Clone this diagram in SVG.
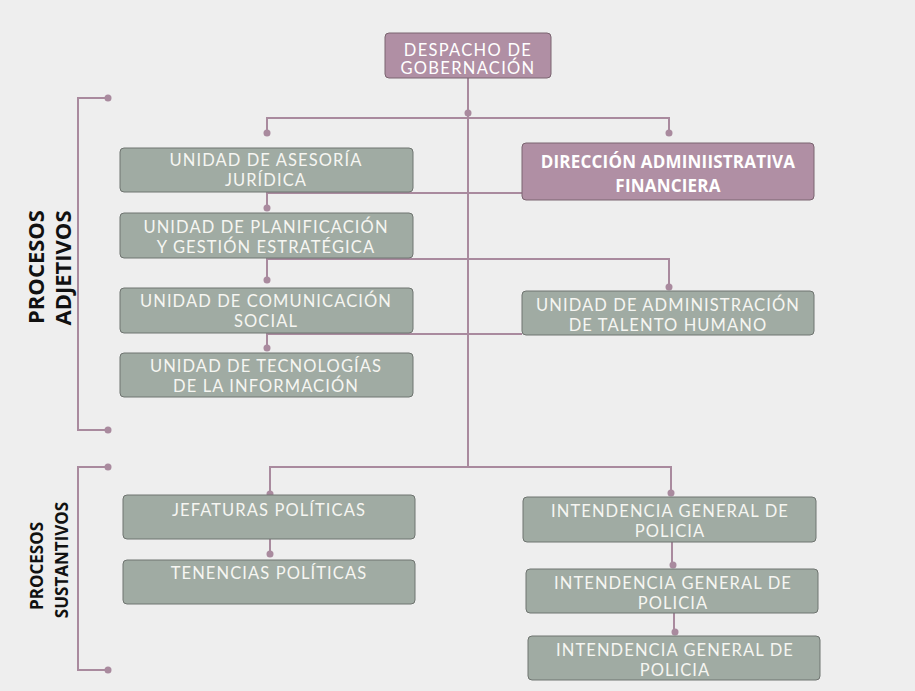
<svg xmlns="http://www.w3.org/2000/svg" width="915" height="691" viewBox="0 0 915 691">
<style>
.bg{fill:#eeeeee}
.ln{stroke:#a98a9e;stroke-width:2;fill:none}
.dot{fill:#a98a9e}
.g{fill:#a0aba3;stroke:#6f7470;stroke-width:1}
.p{fill:#b08fa4;stroke:#7a6470;stroke-width:1}
.t{font-family:Lato,"Open Sans",sans-serif;font-size:16.5px;fill:#f6f6f2;text-anchor:middle;letter-spacing:1.1px}
.tb{font-family:"Open Sans",sans-serif;font-weight:bold;font-size:17px;fill:#ffffff;text-anchor:middle;letter-spacing:0.2px}
.th{font-family:Lato,"Open Sans",sans-serif;font-size:16.5px;fill:#ffffff;text-anchor:middle;letter-spacing:1.3px}
.side{font-family:"Open Sans",sans-serif;font-weight:bold;fill:#111111;text-anchor:middle}
</style>
<rect class="bg" x="0" y="0" width="915" height="691"/>
<g id="connectors">
<path class="ln" d="M468 78 V467"/>
<path class="ln" d="M267 133 V118 H669 V133"/>
<path class="ln" d="M267 192 V208"/>
<path class="ln" d="M267 193 H522"/>
<path class="ln" d="M267 258 V280"/>
<path class="ln" d="M267 259 H669 V287"/>
<path class="ln" d="M267 333 V348"/>
<path class="ln" d="M267 334 H522"/>
<path class="ln" d="M270 494 V467 H671 V493"/>
<path class="ln" d="M270 539 V554"/>
<path class="ln" d="M672 536 V565"/>
<path class="ln" d="M674 606 V632"/>
<path class="ln" d="M107 98 H78 V430 H107"/>
<path class="ln" d="M107 467 H78 V670 H107"/>
<circle class="dot" cx="468" cy="113" r="3.5"/>
<circle class="dot" cx="267" cy="133" r="3.5"/>
<circle class="dot" cx="669" cy="133" r="3.5"/>
<circle class="dot" cx="267" cy="208" r="3.5"/>
<circle class="dot" cx="267" cy="280" r="3.5"/>
<circle class="dot" cx="669" cy="287" r="3.5"/>
<circle class="dot" cx="267" cy="348" r="3.5"/>
<circle class="dot" cx="270" cy="494" r="3.5"/>
<circle class="dot" cx="671" cy="493" r="3.5"/>
<circle class="dot" cx="270" cy="554" r="3.5"/>
<circle class="dot" cx="673" cy="565" r="3.5"/>
<circle class="dot" cx="675" cy="632" r="3.5"/>
<circle class="dot" cx="108" cy="98" r="3.5"/>
<circle class="dot" cx="108" cy="430" r="3.5"/>
<circle class="dot" cx="108" cy="467" r="3.5"/>
<circle class="dot" cx="108" cy="670" r="3.5"/>
</g>
<g id="despacho">
<rect class="p" x="385" y="33" width="166" height="45" rx="4"/>
<text class="th" x="468" y="56">DESPACHO DE</text>
<text class="th" x="468" y="74">GOBERNACIÓN</text>
</g>
<g id="asesoria">
<rect class="g" x="120" y="148" width="293" height="44" rx="4"/>
<text class="t" x="266" y="166">UNIDAD DE ASESORÍA</text>
<text class="t" x="266" y="186">JURÍDICA</text>
</g>
<g id="planificacion">
<rect class="g" x="120" y="213" width="293" height="45" rx="4"/>
<text class="t" x="266" y="233">UNIDAD DE PLANIFICACIÓN</text>
<text class="t" x="266" y="253">Y GESTIÓN ESTRATÉGICA</text>
</g>
<g id="comunicacion">
<rect class="g" x="120" y="288" width="293" height="45" rx="4"/>
<text class="t" x="266" y="307">UNIDAD DE COMUNICACIÓN</text>
<text class="t" x="266" y="327">SOCIAL</text>
</g>
<g id="tecnologias">
<rect class="g" x="120" y="353" width="293" height="44" rx="4"/>
<text class="t" x="266" y="372">UNIDAD DE TECNOLOGÍAS</text>
<text class="t" x="266" y="392">DE LA INFORMACIÓN</text>
</g>
<g id="direccion">
<rect class="p" x="522" y="143" width="292" height="57" rx="4"/>
<text class="tb" x="668" y="168">DIRECCIÓN ADMINIISTRATIVA</text>
<text class="tb" x="668" y="192">FINANCIERA</text>
</g>
<g id="talento">
<rect class="g" x="522" y="291" width="292" height="44" rx="4"/>
<text class="t" x="668" y="311">UNIDAD DE ADMINISTRACIÓN</text>
<text class="t" x="668" y="331">DE TALENTO HUMANO</text>
</g>
<g id="jefaturas">
<rect class="g" x="123" y="495" width="292" height="44" rx="4"/>
<text class="t" x="269" y="516">JEFATURAS POLÍTICAS</text>
</g>
<g id="tenencias">
<rect class="g" x="123" y="560" width="292" height="44" rx="4"/>
<text class="t" x="269" y="579">TENENCIAS POLÍTICAS</text>
</g>
<g id="intendencia1">
<rect class="g" x="523" y="497" width="293" height="45" rx="4"/>
<text class="t" x="670" y="517">INTENDENCIA GENERAL DE</text>
<text class="t" x="670" y="537">POLICIA</text>
</g>
<g id="intendencia2">
<rect class="g" x="526" y="569" width="292" height="44" rx="4"/>
<text class="t" x="673" y="589">INTENDENCIA GENERAL DE</text>
<text class="t" x="673" y="609">POLICIA</text>
</g>
<g id="intendencia3">
<rect class="g" x="528" y="636" width="292" height="44" rx="4"/>
<text class="t" x="675" y="656">INTENDENCIA GENERAL DE</text>
<text class="t" x="675" y="676">POLICIA</text>
</g>
<g id="adjetivos">
<text class="side" font-size="22" transform="translate(44 267) rotate(-90)">PROCESOS</text>
<text class="side" font-size="22" transform="translate(71 268) rotate(-90)">ADJETIVOS</text>
</g>
<g id="sustantivos">
<text class="side" font-size="17" transform="translate(43 566) rotate(-90)">PROCESOS</text>
<text class="side" font-size="17" transform="translate(68 560) rotate(-90)">SUSTANTIVOS</text>
</g>
</svg>
